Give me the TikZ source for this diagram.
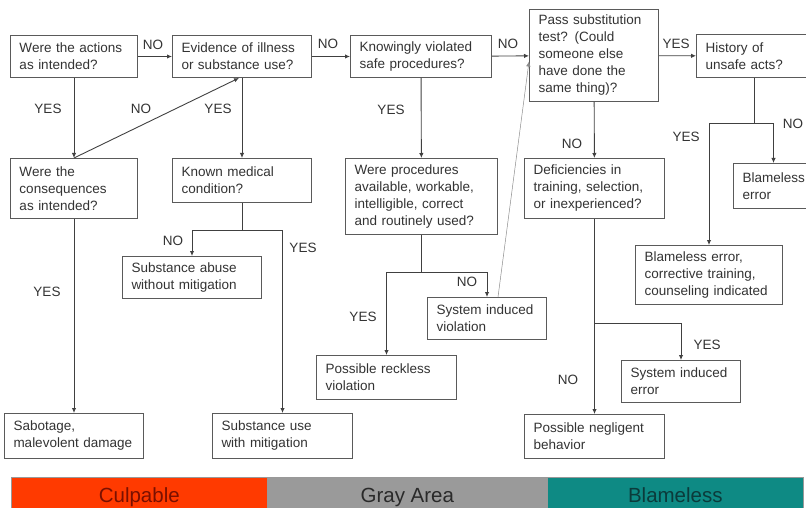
\documentclass[tikz,border=0pt]{standalone}
\usepackage{fontspec}
\setmainfont{Liberation Sans}
\usepackage{xcolor}
\usepackage{tikz}
\usetikzlibrary{arrows.meta, positioning, calc}

\definecolor{culpred}{HTML}{FF3A00}
\definecolor{culptext}{HTML}{7A1000}
\definecolor{grayarea}{HTML}{9A9A9A}
\definecolor{graytext}{HTML}{2A2A2A}
\definecolor{blameteal}{HTML}{0E8A84}
\definecolor{blametext}{HTML}{0B3B3B}
\definecolor{boxline}{HTML}{5A5A5A}
\definecolor{inktext}{HTML}{333333}

\begin{document}
\begin{tikzpicture}[
  x=1pt, y=-1pt,
  box/.style={rectangle, draw=boxline, line width=1pt, fill=white,
    align=left, anchor=north west, inner xsep=9pt, inner ysep=2pt,
    text=inktext, font=\fontsize{13.5}{17}\selectfont},
  lbl/.style={font=\fontsize{13.5}{16}\selectfont, text=inktext, inner sep=0pt},
  arr/.style={-{Latex[length=5pt,width=4.5pt]}, line width=0.9pt, draw=black!75},
  thinarr/.style={-{Latex[length=5pt,width=4.5pt]}, line width=0.5pt, draw=black!45},
  bar/.style={rectangle, anchor=north west, minimum height=40pt,
    text height=15pt, text depth=5pt, inner ysep=0pt,
    draw=black!40, line width=0.6pt, font=\fontsize{20.5}{24}\selectfont},
]
\useasboundingbox (0,0) rectangle (806,508);
% ====== ROW 1: MAIN QUESTIONS ======
\node[box, text width=109pt, minimum height=42pt] (b1) at (10,35)
  {Were the actions\\as intended?};
\node[box, text width=121pt, minimum height=42pt] (b2) at (172,35)
  {Evidence of illness\\or substance use?};
\node[box, text width=123pt, minimum height=42pt] (b3) at (350,35)
  {Knowingly violated\\safe procedures?};
\node[box, text width=111pt, minimum height=92pt] (b4) at (529,9)
  {Pass substitution\\test? (Could\\someone else\\have done the\\same thing)?};
\node[box, text width=98pt, minimum height=43pt] (b5) at (696,34)
  {History of\\unsafe acts?};
%
% ====== ROW 2: FOLLOW-UP QUESTIONS ======
\node[box, text width=109pt, minimum height=60pt] (b6) at (10,158)
  {Were the\\consequences\\as intended?};
\node[box, text width=121pt, minimum height=44pt] (b7) at (172,158)
  {Known medical\\condition?};
\node[box, text width=134pt, minimum height=76pt] (b8) at (345,158)
  {Were procedures\\available, workable,\\intelligible, correct\\and routinely used?};
\node[box, text width=122pt, minimum height=60pt] (b9) at (524,158)
  {Deficiencies in\\training, selection,\\or inexperienced?};
\node[box, text width=62pt, minimum height=45pt] (b10) at (733,163)
  {Blameless\\error};
%
% ====== OUTCOMES ======
\node[box, text width=129pt, minimum height=59pt] (b11) at (635,245)
  {Blameless error,\\corrective training,\\counseling indicated};
\node[box, text width=121pt, minimum height=42pt] (b12) at (122,256)
  {Substance abuse\\without mitigation};
\node[box, text width=101pt, minimum height=42pt] (b13) at (427,297)
  {System induced\\violation};
\node[box, text width=122pt, minimum height=44pt] (b14) at (316,355)
  {Possible reckless\\violation};
\node[box, text width=101pt, minimum height=42pt] (b15) at (621,360)
  {System induced\\error};
\node[box, text width=121pt, minimum height=45pt] (b16) at (4,413)
  {Sabotage,\\malevolent damage};
\node[box, text width=122pt, minimum height=45pt] (b17) at (212,413)
  {Substance use\\with mitigation};
\node[box, text width=122pt, minimum height=44pt] (b18) at (524,414)
  {Possible negligent\\behavior};
%
% ====== CONNECTORS ======
\draw[arr] (b1) -- (b2);
\draw[arr] (b2) -- (b3);
\draw[arr] (b3) -- (b4);
\draw[arr] (b4) -- (b5);
\draw[arr] (b1) -- (b6);
\draw[arr] (b6.north) -- ([xshift=-3pt]b2.south);
\draw[arr] (b2) -- (b7);
\draw[arr] (b3) -- (b8);
\draw[arr] (b4) -- (b9);
\draw[arr] (b6) -- (b16);
\draw[arr] (b9) -- (b18);
% split below b7
\draw[arr] (b7.south) -- ++(0,27) coordinate (b7j) -| (b12.north);
\draw[arr] (b7j) -| (b17.north);
% split below b8
\draw[arr] (b8.south) -- ++(0,37) coordinate (b8j) -| (b13.north);
\draw[arr] (b8j) -| (b14.north);
% split below b5
\draw[arr] (b5.south) -- ++(0,45) coordinate (b5j) -| (b10.north);
\draw[arr] (b5j) -| (b11.north);
% branch off b9
\coordinate (b9j) at (b9.south |- 0,323);
\draw[arr] (b9j) -| (b15.north);
% back to substitution test
\draw[thinarr] ([xshift=11pt]b13.north) -- ([yshift=-6pt]b4.west);
%
% ====== LABELS ======
\node[lbl] (l1) at (153,45) {NO};
\node[lbl] (l2) at (328,44) {NO};
\node[lbl] (l3) at (508,44) {NO};
\node[lbl] (l4) at (676,44) {YES};
\node[lbl] (l5) at (48,109) {YES};
\node[lbl] (l6) at (141,109) {NO};
\node[lbl] (l7) at (218,109) {YES};
\node[lbl] (l8) at (391,110) {YES};
\node[lbl] (l9) at (572,144) {NO};
\node[lbl] (l10) at (686,137) {YES};
\node[lbl] (l11) at (793,124) {NO};
\node[lbl] (l12) at (173,241) {NO};
\node[lbl] (l13) at (303,248) {YES};
\node[lbl] (l14) at (47,292) {YES};
\node[lbl] (l15) at (467,282) {NO};
\node[lbl] (l16) at (363,317) {YES};
\node[lbl] (l17) at (707,345) {YES};
\node[lbl] (l18) at (568,380) {NO};
%
% ====== CATEGORY BAR ======
\node[bar, fill=culpred, text=culptext, minimum width=256pt] (culp) at (11,477) {Culpable};
\node[bar, fill=grayarea, text=graytext, minimum width=280pt] (gray) at (267,477) {Gray Area};
\node[bar, fill=blameteal, text=blametext, minimum width=256pt] (blame) at (547,477) {Blameless};
\end{tikzpicture}
\end{document}
